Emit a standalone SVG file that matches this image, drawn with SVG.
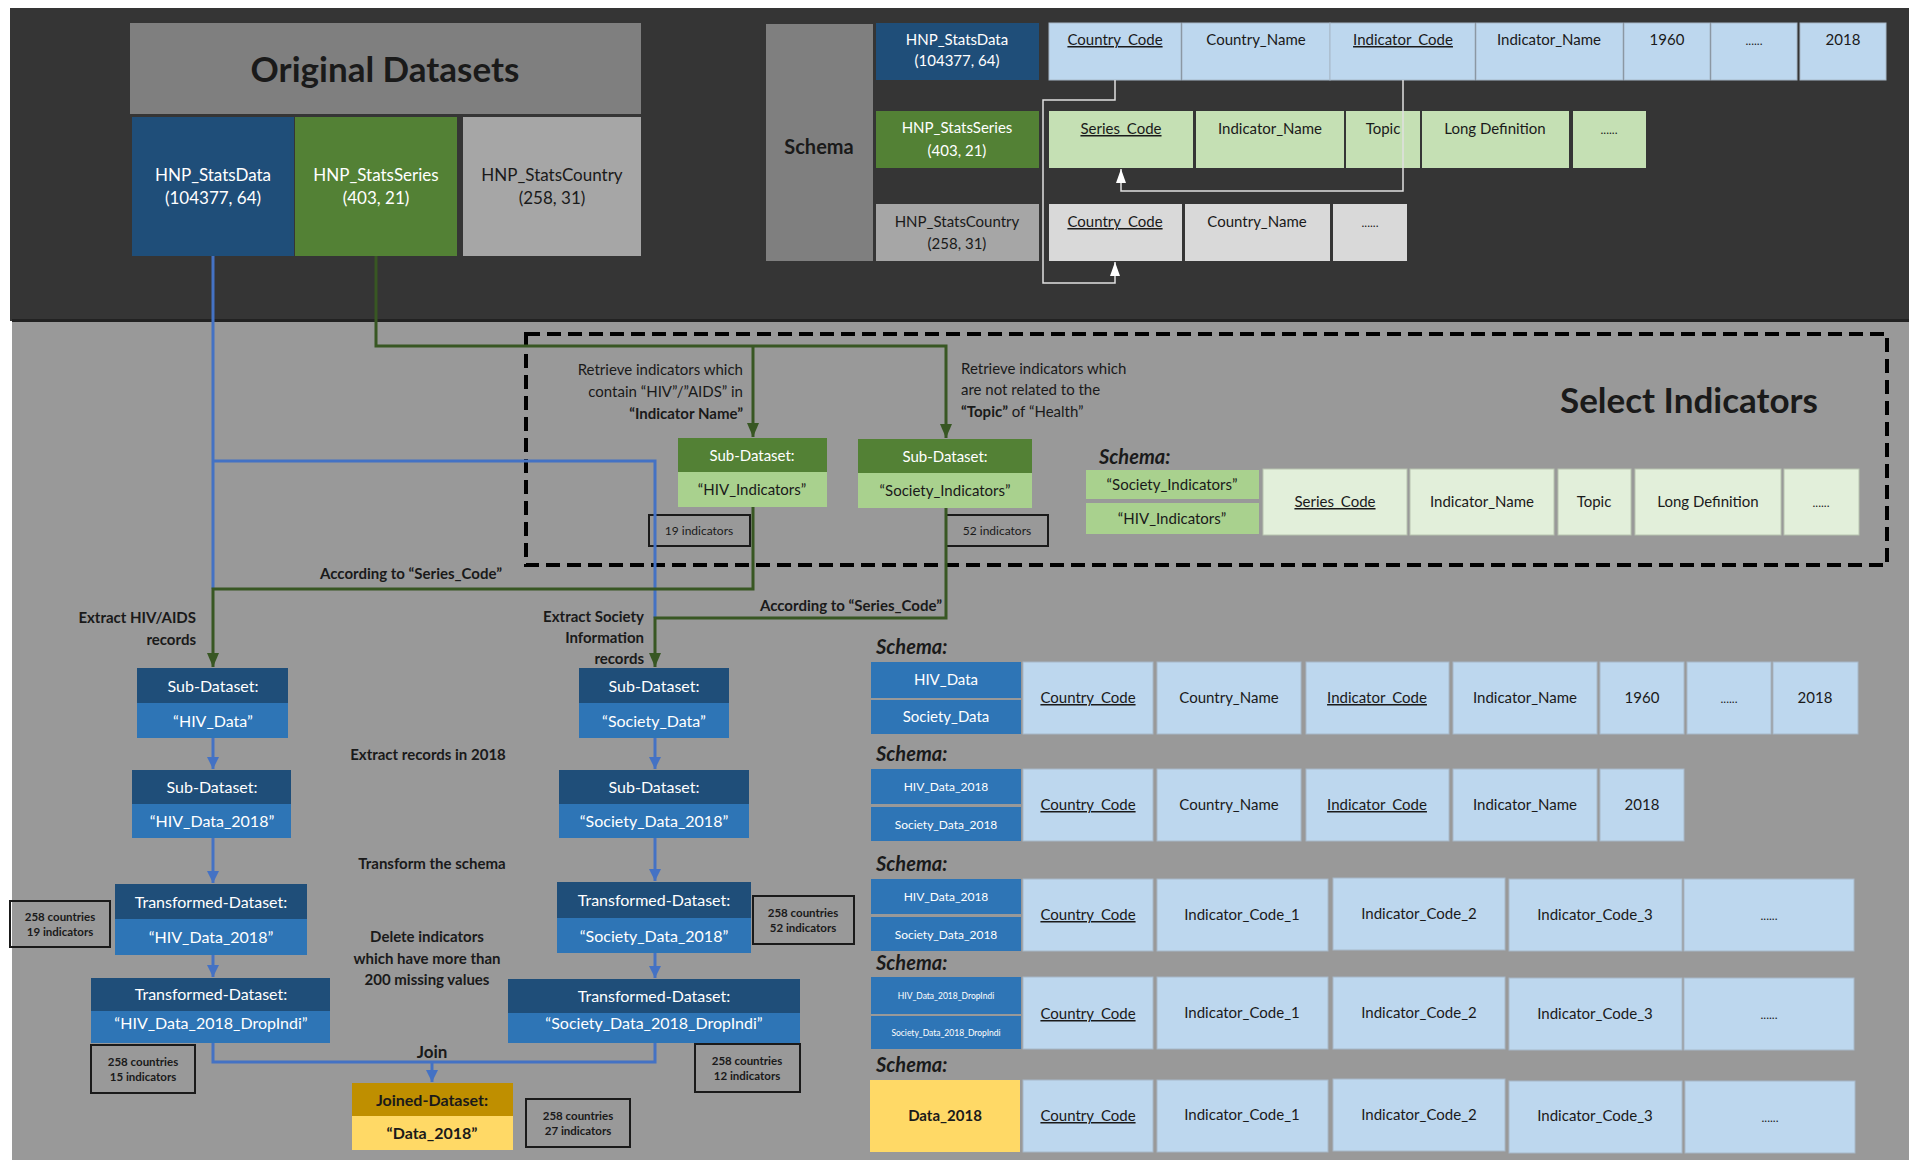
<svg xmlns="http://www.w3.org/2000/svg" width="1919" height="1160" viewBox="0 0 1919 1160">
<defs>
<style>
text{font-family:Lato,"Liberation Sans",sans-serif;fill:#1a1a1a}
.w{fill:#fff}
.m{text-anchor:middle}
.e{text-anchor:end}
.b{font-weight:bold}
.u{text-decoration:underline}
.f17{font-size:17px}
.f16{font-size:16px}
.f15{font-size:15px}
.f14{font-size:14px}
.f12{font-size:12px}
.sch{font-size:20px;font-weight:bold;font-style:italic}
.db{fill:#1f4e79}
.mb{fill:#2e75b6}
.dg{fill:#538135}
.lg{fill:#a9d18e}
.lb{fill:#bdd7ee;stroke:#a7b8c8;stroke-width:1}
.lgc{fill:#c5e0b4}
.vlg{fill:#e2efda;stroke:#b8c4b0;stroke-width:1}
.lgr{fill:#d9d9d9}
.cnt{fill:none;stroke:#1a1a1a;stroke-width:2}
.bl{fill:none;stroke:#4472c4;stroke-width:3}
.gl{fill:none;stroke:#385723;stroke-width:3}
.wl{fill:none;stroke:#e0e0e0;stroke-width:1.5}
</style>
<marker id="ab" viewBox="0 0 12 12" markerWidth="12" markerHeight="12" refX="12" refY="6" orient="auto" markerUnits="userSpaceOnUse"><path d="M0,0 L12,6 L0,12 z" fill="#4472c4"/></marker>
<marker id="ag" viewBox="0 0 14 12" markerWidth="14" markerHeight="12" refX="14" refY="6" orient="auto" markerUnits="userSpaceOnUse"><path d="M0,0 L14,6 L0,12 z" fill="#385723"/></marker>
<marker id="aw" viewBox="0 0 14 10" markerWidth="14" markerHeight="10" refX="14" refY="5" orient="auto" markerUnits="userSpaceOnUse"><path d="M0,0 L14,5 L0,10 z" fill="#ffffff"/></marker>
</defs>

<rect width="1919" height="1160" fill="#ffffff"/>
<rect x="10" y="8" width="1899" height="313" fill="#353535"/>
<rect x="12" y="321" width="1897" height="839" fill="#999999"/>
<rect x="12" y="319" width="1897" height="3" fill="#222"/>

<!-- Original datasets -->
<g id="orig-header">
<rect x="130" y="23" width="511" height="91" fill="#7f7f7f"/>
<text x="385" y="82" class="m b" style="font-size:35px">Original Datasets</text>
</g>
<g id="orig-statsdata">
<rect x="132" y="117" width="162" height="139" class="db"/>
<text x="213" y="181" class="m w f17">HNP_StatsData</text>
<text x="213" y="204" class="m w f17">(104377, 64)</text>
</g>
<g id="orig-statsseries">
<rect x="295" y="117" width="162" height="139" class="dg"/>
<text x="376" y="181" class="m w f17">HNP_StatsSeries</text>
<text x="376" y="204" class="m w f17">(403, 21)</text>
</g>
<g id="orig-statscountry">
<rect x="463" y="117" width="178" height="139" fill="#a6a6a6"/>
<text x="552" y="181" class="m f17">HNP_StatsCountry</text>
<text x="552" y="204" class="m f17">(258, 31)</text>
</g>

<!-- Top schema -->
<g id="schema-top">
<rect x="766" y="24" width="107" height="237" fill="#7f7f7f"/>
<text x="819" y="154" class="m b" style="font-size:20px">Schema</text>
</g>
<g id="schema-statsdata">
<rect x="876" y="23" width="163" height="57" class="db"/>
<text x="957" y="45" class="m w f15">HNP_StatsData</text>
<text x="957" y="66" class="m w f15">(104377, 64)</text>
<rect x="1049" y="23" width="132" height="57" class="lb"/>
<rect x="1182" y="23" width="148" height="57" class="lb"/>
<rect x="1330" y="23" width="145" height="57" class="lb"/>
<rect x="1476" y="23" width="147" height="57" class="lb"/>
<rect x="1624" y="23" width="86" height="57" class="lb"/>
<rect x="1711" y="23" width="86" height="57" class="lb"/>
<rect x="1800" y="23" width="86" height="57" class="lb"/>
<text x="1115" y="45" class="m u f15">Country_Code</text>
<text x="1256" y="45" class="m f15">Country_Name</text>
<text x="1403" y="45" class="m u f15">Indicator_Code</text>
<text x="1549" y="45" class="m f15">Indicator_Name</text>
<text x="1667" y="45" class="m f15">1960</text>
<text x="1754" y="45" class="m f12">......</text>
<text x="1843" y="45" class="m f15">2018</text>
</g>
<g id="schema-statsseries">
<rect x="876" y="111" width="163" height="57" class="dg"/>
<text x="957" y="133" class="m w f15">HNP_StatsSeries</text>
<text x="957" y="156" class="m w f15">(403, 21)</text>
<rect x="1049" y="111" width="144" height="57" class="lgc"/>
<rect x="1196" y="111" width="148" height="57" class="lgc"/>
<rect x="1346" y="111" width="74" height="57" class="lgc"/>
<rect x="1422" y="111" width="147" height="57" class="lgc"/>
<rect x="1573" y="111" width="73" height="57" class="lgc"/>
<text x="1121" y="134" class="m u f15">Series_Code</text>
<text x="1270" y="134" class="m f15">Indicator_Name</text>
<text x="1383" y="134" class="m f15">Topic</text>
<text x="1495" y="134" class="m f15">Long Definition</text>
<text x="1609" y="134" class="m f12">......</text>
</g>
<g id="schema-statscountry">
<rect x="876" y="204" width="163" height="57" fill="#a6a6a6"/>
<text x="957" y="227" class="m f15">HNP_StatsCountry</text>
<text x="957" y="249" class="m f15">(258, 31)</text>
<rect x="1049" y="204" width="133" height="57" class="lgr"/>
<rect x="1185" y="204" width="145" height="57" class="lgr"/>
<rect x="1333" y="204" width="74" height="57" class="lgr"/>
<text x="1115" y="227" class="m u f15">Country_Code</text>
<text x="1257" y="227" class="m f15">Country_Name</text>
<text x="1370" y="227" class="m f12">......</text>
</g>

<!-- Select indicators region -->
<g id="select-indicators">
<rect x="526" y="334" width="1361" height="231" fill="none" stroke="#000" stroke-width="4" stroke-dasharray="14,7"/>
<text x="1689" y="413" class="m b" style="font-size:35px">Select Indicators</text>
<text x="743" y="375" class="e f15">Retrieve indicators which</text>
<text x="743" y="397" class="e f15">contain “HIV”/”AIDS” in</text>
<text x="743" y="419" class="e f15 b">“Indicator Name”</text>
<text x="961" y="374" class="f15">Retrieve indicators which</text>
<text x="961" y="395" class="f15">are not related to the</text>
<text x="961" y="417" class="f15"><tspan class="b">“Topic”</tspan> of “Health”</text>
</g>
<g id="hiv-indicators">
<rect x="678" y="438" width="149" height="34" class="dg"/>
<rect x="678" y="472" width="149" height="35" class="lg"/>
<text x="752" y="461" class="m w f15">Sub-Dataset:</text>
<text x="752" y="495" class="m f15">“HIV_Indicators”</text>
</g>
<g id="society-indicators">
<rect x="858" y="439" width="174" height="34" class="dg"/>
<rect x="858" y="473" width="174" height="35" class="lg"/>
<text x="945" y="462" class="m w f15">Sub-Dataset:</text>
<text x="945" y="496" class="m f15">“Society_Indicators”</text>
</g>
<g id="count-19">
<rect x="649" y="515" width="101" height="31" class="cnt"/>
<text x="699" y="535" class="m f12">19 indicators</text>
</g>
<g id="count-52">
<rect x="946" y="515" width="102" height="31" class="cnt"/>
<text x="997" y="535" class="m f12">52 indicators</text>
</g>
<g id="schema-indicators">
<text x="1099" y="464" class="sch">Schema:</text>
<rect x="1086" y="470" width="173" height="29" fill="#a9d18e"/>
<rect x="1086" y="503" width="173" height="31" fill="#a9d18e"/>
<text x="1172" y="490" class="m f15">“Society_Indicators”</text>
<text x="1172" y="524" class="m f15">“HIV_Indicators”</text>
<rect x="1263" y="469" width="144" height="66" class="vlg"/>
<rect x="1410" y="469" width="144" height="66" class="vlg"/>
<rect x="1558" y="469" width="73" height="66" class="vlg"/>
<rect x="1635" y="469" width="146" height="66" class="vlg"/>
<rect x="1784" y="469" width="75" height="66" class="vlg"/>
<text x="1335" y="507" class="m u f15">Series_Code</text>
<text x="1482" y="507" class="m f15">Indicator_Name</text>
<text x="1594" y="507" class="m f15">Topic</text>
<text x="1708" y="507" class="m f15">Long Definition</text>
<text x="1821" y="507" class="m f12">......</text>
</g>

<!-- Labels -->
<g id="labels">
<text x="411" y="579" class="m b f15">According to “Series_Code”</text>
<text x="942" y="611" class="e b f15">According to “Series_Code”</text>
<text x="196" y="623" class="e b f15">Extract HIV/AIDS</text>
<text x="196" y="645" class="e b f15">records</text>
<text x="644" y="622" class="e b f15">Extract Society</text>
<text x="644" y="643" class="e b f15">Information</text>
<text x="644" y="664" class="e b f15">records</text>
<text x="428" y="760" class="m b f15">Extract records in 2018</text>
<text x="432" y="869" class="m b f15">Transform the schema</text>
<text x="427" y="942" class="m b f15">Delete indicators</text>
<text x="427" y="964" class="m b f15">which have more than</text>
<text x="427" y="985" class="m b f15">200 missing values</text>
<text x="432" y="1058" class="m b f17">Join</text>
</g>

<!-- Connectors -->
<g id="connectors">
<path class="wl" d="M1115,80 V100 H1043 V283 H1115 V262" marker-end="url(#aw)"/>
<path class="wl" d="M1403,80 V191 H1121 V169" marker-end="url(#aw)"/>
<path class="bl" d="M213,256 V589"/>
<path class="bl" d="M213,461 H655 V618"/>
<path class="gl" d="M376,256 V346 H946 V438" marker-end="url(#ag)"/>
<path class="gl" d="M753,346 V437" marker-end="url(#ag)"/>
<path class="gl" d="M753,507 V589 H213 V667" marker-end="url(#ag)"/>
<path class="gl" d="M946,508 V618 H655 V667" marker-end="url(#ag)"/>
<path class="bl" d="M213,738 V769" marker-end="url(#ab)"/>
<path class="bl" d="M213,838 V883" marker-end="url(#ab)"/>
<path class="bl" d="M213,955 V977" marker-end="url(#ab)"/>
<path class="bl" d="M655,738 V769" marker-end="url(#ab)"/>
<path class="bl" d="M655,838 V881" marker-end="url(#ab)"/>
<path class="bl" d="M655,953 V978" marker-end="url(#ab)"/>
<path class="bl" d="M213,1043 V1062 H655 V1043"/>
<path class="bl" d="M432,1062 V1082" marker-end="url(#ab)"/>
</g>

<!-- HIV flow -->
<g id="hiv-data">
<rect x="137" y="668" width="151" height="35" class="db"/>
<rect x="137" y="703" width="151" height="35" class="mb"/>
<text x="213" y="692" class="m w f16">Sub-Dataset:</text>
<text x="213" y="727" class="m w f16">“HIV_Data”</text>
</g>
<g id="hiv-data-2018">
<rect x="132" y="770" width="159" height="34" class="db"/>
<rect x="132" y="804" width="159" height="34" class="mb"/>
<text x="212" y="793" class="m w f16">Sub-Dataset:</text>
<text x="212" y="827" class="m w f16">“HIV_Data_2018”</text>
</g>
<g id="hiv-transformed">
<rect x="115" y="884" width="192" height="35" class="db"/>
<rect x="115" y="919" width="192" height="36" class="mb"/>
<text x="211" y="908" class="m w f16">Transformed-Dataset:</text>
<text x="211" y="943" class="m w f16">“HIV_Data_2018”</text>
</g>
<g id="hiv-dropindi">
<rect x="91" y="978" width="239" height="33" class="db"/>
<rect x="91" y="1011" width="239" height="32" class="mb"/>
<text x="211" y="1000" class="m w f16">Transformed-Dataset:</text>
<text x="211" y="1029" class="m w f16">“HIV_Data_2018_DropIndi”</text>
</g>
<g id="count-hiv-19">
<rect x="10" y="901" width="100" height="46" class="cnt"/>
<text x="60" y="921" class="m b" style="font-size:11.5px">258 countries</text>
<text x="60" y="936" class="m b" style="font-size:11.5px">19 indicators</text>
</g>
<g id="count-hiv-15">
<rect x="91" y="1045" width="104" height="48" class="cnt"/>
<text x="143" y="1066" class="m b" style="font-size:11.5px">258 countries</text>
<text x="143" y="1081" class="m b" style="font-size:11.5px">15 indicators</text>
</g>

<!-- Society flow -->
<g id="society-data">
<rect x="579" y="668" width="150" height="35" class="db"/>
<rect x="579" y="703" width="150" height="35" class="mb"/>
<text x="654" y="692" class="m w f16">Sub-Dataset:</text>
<text x="654" y="727" class="m w f16">“Society_Data”</text>
</g>
<g id="society-data-2018">
<rect x="559" y="770" width="190" height="34" class="db"/>
<rect x="559" y="804" width="190" height="34" class="mb"/>
<text x="654" y="793" class="m w f16">Sub-Dataset:</text>
<text x="654" y="827" class="m w f16">“Society_Data_2018”</text>
</g>
<g id="society-transformed">
<rect x="557" y="882" width="194" height="36" class="db"/>
<rect x="557" y="918" width="194" height="35" class="mb"/>
<text x="654" y="906" class="m w f16">Transformed-Dataset:</text>
<text x="654" y="942" class="m w f16">“Society_Data_2018”</text>
</g>
<g id="society-dropindi">
<rect x="508" y="979" width="292" height="34" class="db"/>
<rect x="508" y="1013" width="292" height="30" class="mb"/>
<text x="654" y="1002" class="m w f16">Transformed-Dataset:</text>
<text x="654" y="1029" class="m w f16">“Society_Data_2018_DropIndi”</text>
</g>
<g id="count-soc-52">
<rect x="753" y="896" width="101" height="48" class="cnt"/>
<text x="803" y="917" class="m b" style="font-size:11.5px">258 countries</text>
<text x="803" y="932" class="m b" style="font-size:11.5px">52 indicators</text>
</g>
<g id="count-soc-12">
<rect x="695" y="1044" width="105" height="48" class="cnt"/>
<text x="747" y="1065" class="m b" style="font-size:11.5px">258 countries</text>
<text x="747" y="1080" class="m b" style="font-size:11.5px">12 indicators</text>
</g>

<!-- Joined -->
<g id="joined-data">
<rect x="352" y="1083" width="161" height="33" fill="#bf8f00"/>
<rect x="352" y="1116" width="161" height="34" fill="#ffd966"/>
<text x="432" y="1106" class="m b f16">Joined-Dataset:</text>
<text x="432" y="1139" class="m b f16">“Data_2018”</text>
</g>
<g id="count-joined">
<rect x="526" y="1099" width="104" height="48" class="cnt"/>
<text x="578" y="1120" class="m b" style="font-size:11.5px">258 countries</text>
<text x="578" y="1135" class="m b" style="font-size:11.5px">27 indicators</text>
</g>

<!-- Right schemas -->
<g id="schema-row1">
<text x="876" y="654" class="sch">Schema:</text>
<rect x="871" y="662" width="150" height="36" class="mb"/>
<rect x="871" y="700" width="150" height="34" class="mb"/>
<text x="946" y="685" class="m w f15">HIV_Data</text>
<text x="946" y="722" class="m w f15">Society_Data</text>
<rect x="1023" y="662" width="130" height="72" class="lb"/>
<rect x="1157" y="662" width="144" height="72" class="lb"/>
<rect x="1306" y="662" width="143" height="72" class="lb"/>
<rect x="1453" y="662" width="144" height="72" class="lb"/>
<rect x="1600" y="662" width="84" height="72" class="lb"/>
<rect x="1687" y="662" width="84" height="72" class="lb"/>
<rect x="1773" y="662" width="85" height="72" class="lb"/>
<text x="1088" y="703" class="m u f15">Country_Code</text>
<text x="1229" y="703" class="m f15">Country_Name</text>
<text x="1377" y="703" class="m u f15">Indicator_Code</text>
<text x="1525" y="703" class="m f15">Indicator_Name</text>
<text x="1642" y="703" class="m f15">1960</text>
<text x="1729" y="703" class="m f12">......</text>
<text x="1815" y="703" class="m f15">2018</text>
</g>
<g id="schema-row2">
<text x="876" y="761" class="sch">Schema:</text>
<rect x="871" y="769" width="150" height="35" class="mb"/>
<rect x="871" y="807" width="150" height="34" class="mb"/>
<text x="946" y="791" class="m w f12">HIV_Data_2018</text>
<text x="946" y="829" class="m w f12">Society_Data_2018</text>
<rect x="1023" y="769" width="130" height="72" class="lb"/>
<rect x="1157" y="769" width="144" height="72" class="lb"/>
<rect x="1306" y="769" width="143" height="72" class="lb"/>
<rect x="1453" y="769" width="144" height="72" class="lb"/>
<rect x="1600" y="769" width="84" height="72" class="lb"/>
<text x="1088" y="810" class="m u f15">Country_Code</text>
<text x="1229" y="810" class="m f15">Country_Name</text>
<text x="1377" y="810" class="m u f15">Indicator_Code</text>
<text x="1525" y="810" class="m f15">Indicator_Name</text>
<text x="1642" y="810" class="m f15">2018</text>
</g>
<g id="schema-row3">
<text x="876" y="871" class="sch">Schema:</text>
<rect x="871" y="879" width="150" height="35" class="mb"/>
<rect x="871" y="917" width="150" height="34" class="mb"/>
<text x="946" y="901" class="m w f12">HIV_Data_2018</text>
<text x="946" y="939" class="m w f12">Society_Data_2018</text>
<rect x="1023" y="879" width="130" height="72" class="lb"/>
<rect x="1157" y="879" width="171" height="72" class="lb"/>
<rect x="1333" y="878" width="172" height="72" class="lb"/>
<rect x="1509" y="879" width="173" height="72" class="lb"/>
<rect x="1684" y="879" width="170" height="72" class="lb"/>
<text x="1088" y="920" class="m u f15">Country_Code</text>
<text x="1242" y="920" class="m f15">Indicator_Code_1</text>
<text x="1419" y="919" class="m f15">Indicator_Code_2</text>
<text x="1595" y="920" class="m f15">Indicator_Code_3</text>
<text x="1769" y="920" class="m f12">......</text>
</g>
<g id="schema-row4">
<text x="876" y="970" class="sch">Schema:</text>
<rect x="871" y="977" width="150" height="37" class="mb"/>
<rect x="871" y="1016" width="150" height="33" class="mb"/>
<text x="946" y="999" class="m w" style="font-size:8.5px">HIV_Data_2018_DropIndi</text>
<text x="946" y="1036" class="m w" style="font-size:8.5px">Society_Data_2018_DropIndi</text>
<rect x="1023" y="977" width="130" height="72" class="lb"/>
<rect x="1157" y="977" width="171" height="72" class="lb"/>
<rect x="1333" y="977" width="172" height="72" class="lb"/>
<rect x="1509" y="978" width="173" height="72" class="lb"/>
<rect x="1684" y="978" width="170" height="72" class="lb"/>
<text x="1088" y="1019" class="m u f15">Country_Code</text>
<text x="1242" y="1018" class="m f15">Indicator_Code_1</text>
<text x="1419" y="1018" class="m f15">Indicator_Code_2</text>
<text x="1595" y="1019" class="m f15">Indicator_Code_3</text>
<text x="1769" y="1019" class="m f12">......</text>
</g>
<g id="schema-row5">
<text x="876" y="1072" class="sch">Schema:</text>
<rect x="870" y="1080" width="150" height="72" fill="#ffd966"/>
<text x="945" y="1121" class="m b f15">Data_2018</text>
<rect x="1023" y="1080" width="130" height="72" class="lb"/>
<rect x="1157" y="1080" width="171" height="72" class="lb"/>
<rect x="1333" y="1079" width="172" height="72" class="lb"/>
<rect x="1509" y="1081" width="173" height="72" class="lb"/>
<rect x="1685" y="1081" width="170" height="72" class="lb"/>
<text x="1088" y="1121" class="m u f15">Country_Code</text>
<text x="1242" y="1120" class="m f15">Indicator_Code_1</text>
<text x="1419" y="1120" class="m f15">Indicator_Code_2</text>
<text x="1595" y="1121" class="m f15">Indicator_Code_3</text>
<text x="1770" y="1122" class="m f12">......</text>
</g>
</svg>
